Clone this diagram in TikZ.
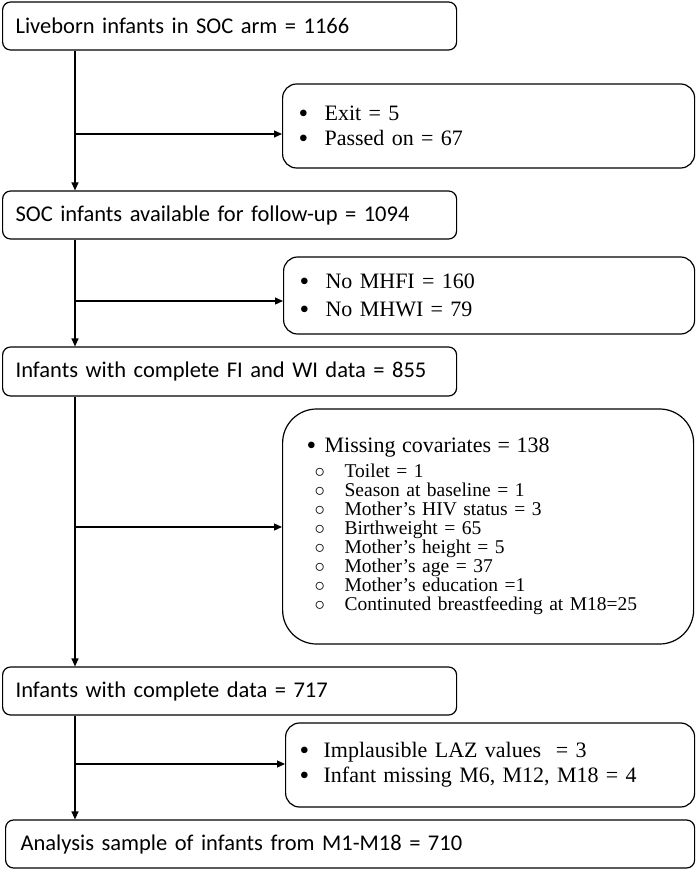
\documentclass[tikz,border=0pt]{standalone}
\usepackage{fontspec}
\usepackage{graphicx}
\setmainfont{Liberation Serif}
\newfontfamily\calfont{Carlito}
\usetikzlibrary{arrows.meta}
\newcommand{\blt}[1][26bp]{\makebox[#1][l]{\smash{\raisebox{-1.6bp}{\scalebox{1.25}{\textbullet}}}}}
\newcommand{\sbl}{\hspace*{8bp}\makebox[30bp][l]{\raisebox{0.5bp}{$\circ$}}}
\begin{document}
\begin{tikzpicture}[x=1bp,y=-1bp,
  mainbox/.style={draw, line width=1.2bp, rounded corners=8bp, anchor=west,
    font=\calfont\fontsize{22.5bp}{26bp}\selectfont, align=left,
    inner xsep=13bp, inner ysep=0bp},
  sidebox/.style={draw, line width=1.2bp, rounded corners=14bp, anchor=west,
    font=\fontsize{22bp}{25bp}\selectfont, align=left, inner ysep=0bp},
  arr/.style={line width=1.2bp, -{Triangle[width=7bp,length=8bp]}}]
\useasboundingbox (0,0) rectangle (696,870);

% main boxes
\node[mainbox, text width=428bp, minimum height=48bp] (b1) at (2,26) {Liveborn infants in SOC arm = 1166};
\node[mainbox, text width=428bp, minimum height=48bp] (b2) at (2,215) {SOC infants available for follow-up = 1094};
\node[mainbox, text width=428bp, minimum height=49bp] (b3) at (2,371.5) {Infants with complete FI and WI data = 855};
\node[mainbox, text width=428bp, minimum height=48bp] (b4) at (2,691) {Infants with complete data = 717};
\node[mainbox, inner xsep=15bp, text width=659bp, minimum height=48bp] (b5) at (5,844) {Analysis sample of infants from M1-M18 = 710};

% side boxes
\node[sidebox, inner xsep=16bp, text width=380bp, minimum height=84bp] (s1) at (282,126)
  {\blt Exit = 5\\ \blt Passed on = 67};
\node[sidebox, inner xsep=16bp, text width=379bp, minimum height=77bp,
  font=\fontsize{22bp}{28bp}\selectfont] (s2) at (283,295.5)
  {\blt No MHFI = 160\\ \blt No MHWI = 79};
\node[sidebox, rounded corners=34bp, inner xsep=24bp, text width=363bp, minimum height=235bp,
  font=\fontsize{19.5bp}{19bp}\selectfont] (s3) at (282,526.5)
  {{\fontsize{22bp}{22bp}\selectfont\blt[18bp]Missing covariates = 138}\\[6bp]
   \sbl Toilet = 1\\
   \sbl Season at baseline = 1\\
   \sbl Mother’s HIV status = 3\\
   \sbl Birthweight = 65\\
   \sbl Mother’s height = 5\\
   \sbl Mother’s age = 37\\
   \sbl Mother’s education =1\\
   \sbl Continuted breastfeeding at M18=25};
\node[sidebox, inner xsep=14bp, text width=381bp, minimum height=84bp,
  font=\fontsize{22bp}{25bp}\selectfont] (s4) at (285,765)
  {\blt[24bp]Implausible LAZ values \ = 3\\ \blt[24bp]Infant missing M6, M12, M18 = 4};

% spine
\coordinate (sp) at (75,0);
\coordinate (j1) at (75,134);
\coordinate (j2) at (75,301);
\coordinate (j3) at (75,527);
\coordinate (j4) at (75,764);

\draw[arr] (b1.south -| sp) -- (b2.north -| sp);
\draw[arr] (b2.south -| sp) -- (b3.north -| sp);
\draw[arr] (b3.south -| sp) -- (b4.north -| sp);
\draw[arr] (b4.south -| sp) -- (b5.north -| sp);

\draw[arr] (j1) -- (j1 -| s1.west);
\draw[arr] (j2) -- (j2 -| s2.west);
\draw[arr] (j3) -- (j3 -| s3.west);
\draw[arr] (j4) -- (j4 -| s4.west);
\end{tikzpicture}
\end{document}
